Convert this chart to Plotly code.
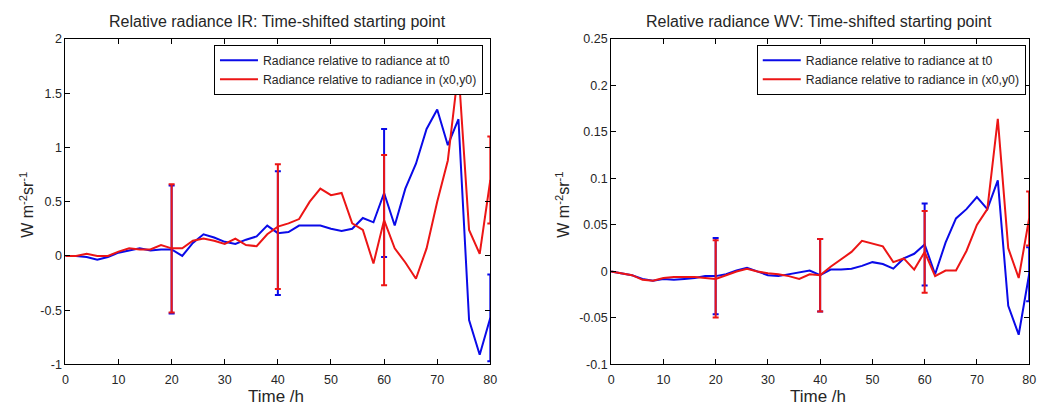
import plotly.graph_objects as go

time_h = list(range(0, 82, 2))

ir_t0 = [0, 0, -0.01, -0.035, -0.01, 0.03, 0.05, 0.07, 0.05, 0.06, 0.06, 0.0, 0.12, 0.2, 0.17,
         0.13, 0.11, 0.15, 0.18, 0.28, 0.21, 0.22, 0.28, 0.28, 0.28, 0.25, 0.23, 0.25, 0.35, 0.31,
         0.58, 0.28, 0.62, 0.85, 1.17, 1.35, 1.02, 1.26, -0.59, -0.91, -0.57]
ir_xy0 = [0, 0, 0.02, 0.0, 0.0, 0.04, 0.07, 0.06, 0.06, 0.1, 0.07, 0.07, 0.14, 0.16, 0.14,
          0.11, 0.16, 0.1, 0.09, 0.2, 0.27, 0.3, 0.34, 0.5, 0.62, 0.56, 0.58, 0.3, 0.24, -0.07,
          0.33, 0.07, -0.06, -0.21, 0.07, 0.5, 0.88, 1.72, 0.24, 0.02, 0.7]
wv_t0 = [0, -0.002, -0.004, -0.008, -0.01, -0.008, -0.009, -0.008, -0.007, -0.005, -0.005,
         -0.003, 0.001, 0.004, 0.0, -0.004, -0.005, -0.003, -0.001, 0.001, -0.004, 0.002, 0.002,
         0.003, 0.006, 0.01, 0.008, 0.003, 0.014, 0.019, 0.029, -0.003, 0.031, 0.057, 0.067,
         0.08, 0.067, 0.098, -0.037, -0.068, -0.003]
wv_xy0 = [0, -0.002, -0.004, -0.009, -0.01, -0.007, -0.006, -0.006, -0.006, -0.007, -0.008,
          -0.004, 0.0, 0.003, 0.0, -0.002, -0.003, -0.005, -0.008, -0.003, -0.004, 0.005, 0.013,
          0.021, 0.033, 0.03, 0.027, 0.01, 0.014, 0.002, 0.021, -0.005, 0.001, 0.001, 0.022,
          0.05, 0.067, 0.164, 0.025, -0.007, 0.057]

err_times = [20, 40, 60, 80]
ir_err_t0 = [0.59, 0.57, 0.59, 0.40]
ir_err_xy0 = [0.59, 0.575, 0.60, 0.40]
wv_err_t0 = [0.041, 0.039, 0.044, 0.029]
wv_err_xy0 = [0.0415, 0.039, 0.044, 0.029]

x_ticks = [0, 10, 20, 30, 40, 50, 60, 70, 80]
ir_yticks = [-1, -0.5, 0, 0.5, 1, 1.5, 2]
ir_ytext = ["-1", "-0.5", "0", "0.5", "1", "1.5", "2"]
wv_yticks = [-0.1, -0.05, 0, 0.05, 0.1, 0.15, 0.2, 0.25]
wv_ytext = ["-0.1", "-0.05", "0", "0.05", "0.1", "0.15", "0.2", "0.25"]

name_t0 = "Radiance relative to radiance at t0"
name_xy0 = "Radiance relative to radiance in (x0,y0)"
titles = ["Relative radiance IR: Time-shifted starting point",
          "Relative radiance WV: Time-shifted starting point"]

BLUE = "#0a0ae8"
RED = "#ec1515"
FONT = "Liberation Sans, Arial, sans-serif"
TXT = "#262626"

fig = go.Figure()


def pick(series):
    return [series[time_h.index(t)] for t in err_times]


panels = [
    ("x", "y", "legend", ir_t0, ir_xy0, ir_err_t0, ir_err_xy0),
    ("x2", "y2", "legend2", wv_t0, wv_xy0, wv_err_t0, wv_err_xy0),
]
for xa, ya, lg, s_t0, s_xy0, e_t0, e_xy0 in panels:
    for name, s, e, col in [(name_t0, s_t0, e_t0, BLUE), (name_xy0, s_xy0, e_xy0, RED)]:
        fig.add_trace(go.Scatter(x=time_h, y=s, mode="lines", name=name,
                                 line=dict(color=col, width=2), xaxis=xa, yaxis=ya,
                                 legend=lg, cliponaxis=True))
        fig.add_trace(go.Scatter(x=err_times, y=pick(s), mode="markers",
                                 marker=dict(size=1, color=col, opacity=0),
                                 error_y=dict(type="data", array=e, visible=True, color=col,
                                              thickness=2, width=3),
                                 xaxis=xa, yaxis=ya, showlegend=False, hoverinfo="skip"))

axis_common = dict(showline=True, linecolor="black", linewidth=1, mirror="allticks",
                   ticks="inside", ticklen=5, tickcolor="black", showgrid=False,
                   zeroline=False, tickfont=dict(family=FONT, size=12.5, color=TXT))

ydom = [44 / 414, 381 / 414]
leg_common = dict(xanchor="left", yanchor="top", bgcolor="white", bordercolor="black",
                  borderwidth=1, font=dict(family=FONT, size=12.3, color=TXT), itemwidth=38,
                  tracegroupgap=0)
fig.update_layout(
    width=1051, height=414, margin=dict(l=0, r=0, t=0, b=0),
    paper_bgcolor="white", plot_bgcolor="white",
    xaxis=dict(domain=[63 / 1051, 492 / 1051], range=[0, 80], tickvals=x_ticks, anchor="y",
               ticklabelstandoff=4, **axis_common),
    yaxis=dict(domain=ydom, range=[-1, 2], tickvals=ir_yticks, ticktext=ir_ytext, anchor="x",
               **axis_common),
    xaxis2=dict(domain=[614 / 1051, 1036 / 1051], range=[0, 80], tickvals=x_ticks, anchor="y2",
                ticklabelstandoff=4, **axis_common),
    yaxis2=dict(domain=ydom, range=[-0.1, 0.25], tickvals=wv_yticks, ticktext=wv_ytext,
                anchor="x2", **axis_common),
    legend=dict(x=213 / 1051, y=(414 - 39) / 414, **leg_common),
    legend2=dict(x=761 / 1051, y=(414 - 39) / 414, **leg_common),
    showlegend=True,
)

ann = []
for cx, title in [(277, titles[0]), (824, titles[1])]:
    ann.append(dict(text=title, x=cx / 1051, y=(414 - 15) / 414, xref="paper", yref="paper",
                    showarrow=False, xanchor="center", yanchor="middle",
                    font=dict(family=FONT, size=16, color=TXT)))
for cx in [276, 823]:
    ann.append(dict(text="Time /h", x=cx / 1051, y=(414 - 403) / 414, xref="paper",
                    yref="paper", showarrow=False, xanchor="center", yanchor="middle",
                    font=dict(family=FONT, size=17, color=TXT)))
for cx in [24, 565]:
    ann.append(dict(text="W m<sup>-2</sup>sr<sup>-1</sup>", x=cx / 1051, y=(414 - 205) / 414,
                    xref="paper", yref="paper", showarrow=False, xanchor="center",
                    yanchor="middle", textangle=-90,
                    font=dict(family=FONT, size=16, color=TXT)))
fig.update_layout(annotations=ann)

fig.write_html("out.html")
